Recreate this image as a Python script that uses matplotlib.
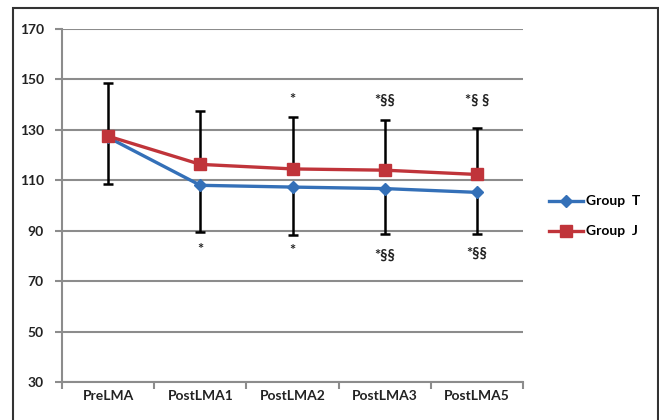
import matplotlib.pyplot as plt
from matplotlib.patches import Rectangle
import numpy as np

plt.rcParams['font.family'] = ['Lato', 'DejaVu Sans']

categories = ["PreLMA", "PostLMA1", "PostLMA2", "PostLMA3", "PostLMA5"]
group_t = [127, 108, 107.3, 106.7, 105.2]
group_j = [127.5, 116.3, 114.5, 114, 112.3]
# error bars: upper on Group J, lower on Group T
j_upper = [21, 21, 20.5, 20, 18.3]
t_lower = [18.5, 18.5, 19, 18, 16.4]

# significance marks (above / below)
marks_top = ["", "", "*", "*§§", "*§ §"]
marks_bottom = ["", "*", "*", "*§§", "*§§"]
top_y = [None, None, 142, 141.5, 141.5]
bottom_y = [None, 82.5, 82, 80, 81]

yticks = [30, 50, 70, 90, 110, 130, 150, 170]

blue = "#3470B8"
red = "#C0343A"
grid_c = "#8c8c8c"

fig = plt.figure(figsize=(6.59, 4.2), dpi=100)
ax = fig.add_axes([0.094, 0.0905, 0.700, 0.8405])

x = np.arange(len(categories))

ax.errorbar(x, group_j, yerr=[np.zeros(len(x)), j_upper], fmt='none',
            ecolor='black', elinewidth=1.8, capsize=3.5, capthick=1.8, zorder=2)
ax.errorbar(x, group_t, yerr=[t_lower, np.zeros(len(x))], fmt='none',
            ecolor='black', elinewidth=1.8, capsize=3.5, capthick=1.8, zorder=2)

ax.plot(x, group_t, color=blue, lw=2.4, marker='D', ms=6.5, label="Group  T", zorder=3)
ax.plot(x, group_j, color=red, lw=2.4, marker='s', ms=8.5, label="Group  J", zorder=4)

for i in range(len(x)):
    if marks_top[i]:
        ax.text(x[i], top_y[i], marks_top[i], ha='center', va='center',
                fontsize=10.5, fontweight='bold', color='#222222')
    if marks_bottom[i]:
        ax.text(x[i], bottom_y[i], marks_bottom[i], ha='center', va='center',
                fontsize=10.5, fontweight='bold', color='#222222')

ax.set_xlim(-0.5, len(x) - 0.5)
ax.set_ylim(30, 170)
ax.set_yticks(yticks)
ax.set_yticklabels([str(v) for v in yticks], fontsize=10, fontweight='bold', color='#222222')
ax.yaxis.grid(True, color=grid_c, lw=1.5)
ax.set_axisbelow(True)

# category labels between boundary ticks
ax.set_xticks(np.arange(len(x) + 1) - 0.5)
ax.set_xticklabels([])
ax.set_xticks(x, minor=True)
ax.set_xticklabels(categories, minor=True, fontsize=10, fontweight='bold', color='#222222')
ax.tick_params(axis='x', which='minor', length=0, pad=6)
ax.tick_params(axis='x', which='major', length=5, color=grid_c, width=1.5)
ax.tick_params(axis='y', length=5, color=grid_c, width=1.5, pad=8)

for s in ['top', 'right']:
    ax.spines[s].set_visible(False)
for s in ['left', 'bottom']:
    ax.spines[s].set_color(grid_c)
    ax.spines[s].set_linewidth(1.5)

ax.legend(loc='center left', bbox_to_anchor=(1.055, 0.469), frameon=False,
          borderaxespad=0, borderpad=0, handlelength=2.5, handletextpad=0.2,
          labelspacing=1.3, prop={'size': 10, 'weight': 'bold'})

# outer frame
fig.patches.append(Rectangle((13 / 659, -0.05), (658 - 13) / 659, 1.05 - 8 / 420,
                             transform=fig.transFigure, fill=False,
                             edgecolor='#333333', lw=1.5))

plt.savefig("out.png", dpi=100)
